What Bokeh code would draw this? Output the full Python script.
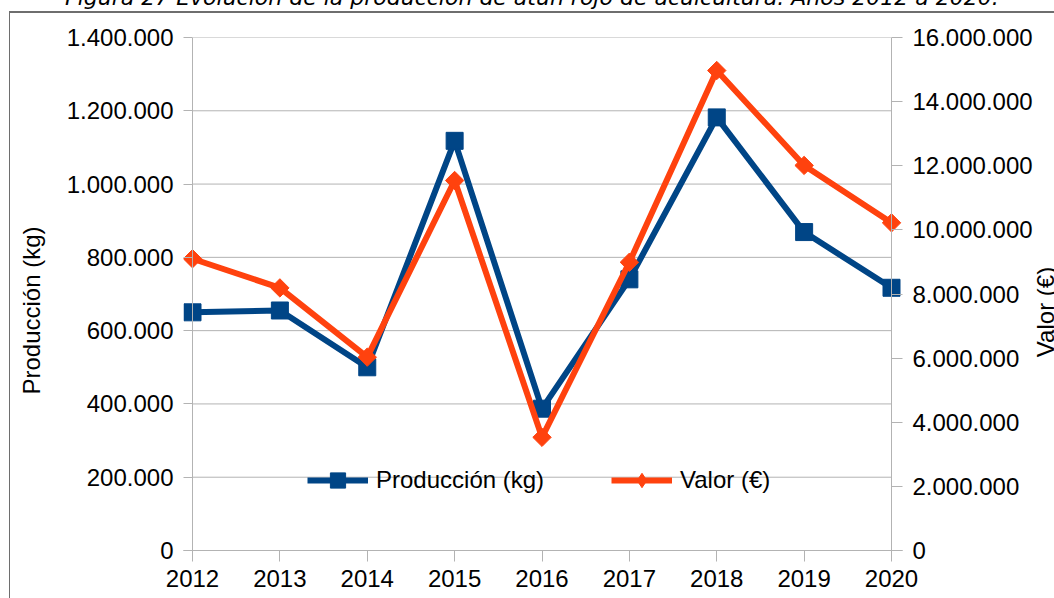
import numpy as np
from bokeh.plotting import figure
from bokeh.layouts import column
from bokeh.models import (Range1d, LinearAxis, FixedTicker, Legend, LegendItem,
                          Span, ColumnDataSource, Div)
from bokeh.embed import file_html
from bokeh.resources import INLINE

# ---- data ----
years = [2012, 2013, 2014, 2015, 2016, 2017, 2018, 2019, 2020]
year_labels = ["2012", "2013", "2014", "2015", "2016", "2017", "2018", "2019", "2020"]
produccion = [650000, 655000, 500000, 1118000, 387000, 740000, 1182000, 869000, 717000]
valor = [9100000, 8190000, 6030000, 11540000, 3530000, 8990000, 14970000, 12010000, 10220000]
prod_ticks = [0, 200000, 400000, 600000, 800000, 1000000, 1200000, 1400000]
valor_ticks = [0, 2000000, 4000000, 6000000, 8000000, 10000000, 12000000, 14000000, 16000000]
title_text = "Figura 27 Evolución de la producción de atún rojo de acuicultura. Años 2012 a 2020."
prod_label = "Producción (kg)"
valor_label = "Valor (€)"


def fmt(v):
    return f"{v:,}".replace(",", ".")


BLUE = "#004586"
ORANGE = "#ff420e"
GRAY = "#b3b3b3"
BOX = "#6e6e6e"
FONT = "Liberation Sans"
FS = "24px"
W = 1054
H = 598
TOP_H = 11          # strip holding the (cut-off) caption
MAIN_H = H - TOP_H

# frame geometry (page pixels)
FR_TOP, FR_BOT = 37, 550
X0_PX, X1_PX = 192, 891
px_per_year = (X1_PX - X0_PX) / (years[-1] - years[0])
pad_l = 9 / px_per_year
pad_r = 11 / px_per_year
# upper end of the left axis title (page y = 226)
prod_title_pos = int(round(prod_ticks[-1] * (FR_BOT - 226) / (FR_BOT - FR_TOP)))

# ---- caption strip (only the lower part of the caption is visible) + right axis title ----
caption_html = (
    '<div style="position:relative; top:-13px; left:65px; white-space:nowrap; '
    'font-family:\'DejaVu Sans\'; font-style:italic; font-size:22px; '
    'line-height:22px; color:#000;">' + title_text + '</div>'
    f'<div style="position:absolute; left:0; top:0; width:{W}px; height:{H}px; '
    'overflow:hidden; pointer-events:none; z-index:1000;">'
    '<div style="position:absolute; left:1046px; top:312px; '
    'transform:translate(-50%,-50%) rotate(-90deg); white-space:nowrap; '
    'font-family:\'Liberation Sans\'; font-size:24px; line-height:24px; color:#000;">'
    + valor_label + '</div></div>'
)
caption = Div(text=caption_html, width=W, height=TOP_H, margin=0,
              styles={"overflow": "visible", "position": "relative", "z-index": "1000"})

# ---- main chart ----
p = figure(width=W, height=MAIN_H, output_backend="svg", toolbar_location=None,
           x_range=Range1d(years[0] - pad_l, years[-1] + pad_r),
           y_range=Range1d(prod_ticks[0], prod_ticks[-1]),
           min_border_left=X0_PX - 9, min_border_right=W - (X1_PX + 11),
           min_border_top=FR_TOP - TOP_H, min_border_bottom=MAIN_H - (FR_BOT - TOP_H))
# chart box border (left and top edges; right/bottom lie outside the window)
p.styles = {
    "background-color": "white",
    "background-image": f"linear-gradient({BOX}, {BOX}), linear-gradient({BOX}, {BOX})",
    "background-size": "1px 100%, 100% 2px",
    "background-position": "9px 0px, 9px 0px",
    "background-repeat": "no-repeat",
}
p.outline_line_color = None
p.background_fill_color = "white"
p.border_fill_color = None
p.xgrid.visible = False
p.ygrid.visible = False
p.extra_y_ranges = {"valor": Range1d(valor_ticks[0], valor_ticks[-1])}

# horizontal grid lines from the left-axis ticks
p.segment(x0=years[0], x1=years[-1], y0=prod_ticks, y1=prod_ticks,
          line_color=GRAY, line_width=1)
# vertical axis lines at first / last category
p.add_layout(Span(location=years[0], dimension="height", line_color=GRAY, line_width=1))
p.add_layout(Span(location=years[-1], dimension="height", line_color=GRAY, line_width=1))

# series
src = ColumnDataSource(dict(x=years, prod=produccion, val=valor))
l1 = p.line("x", "prod", source=src, line_color=BLUE, line_width=6, line_join="round")
m1 = p.scatter("x", "prod", source=src, marker="square", size=17,
               fill_color=BLUE, line_color=BLUE)
l2 = p.line("x", "val", source=src, y_range_name="valor", line_color=ORANGE,
            line_width=6, line_join="round")
m2 = p.scatter("x", "val", source=src, y_range_name="valor", marker="square",
               angle=np.pi / 4, size=13, fill_color=ORANGE, line_color=ORANGE)
# legend-only diamond (one NaN point, never drawn in the plot)
m2_leg = p.scatter(x=np.array([np.nan]), y=np.array([np.nan]), y_range_name="valor",
                   marker="diamond", size=13, fill_color=ORANGE, line_color=ORANGE)


def style_labels(ax):
    ax.major_label_text_font = FONT
    ax.major_label_text_font_size = FS
    ax.major_label_text_color = "black"
    ax.minor_tick_line_color = None


# bottom axis
xa = p.xaxis[0]
xa.ticker = FixedTicker(ticks=years)
xa.major_label_overrides = {y: s for y, s in zip(years, year_labels)}
xa.axis_line_color = GRAY
xa.major_tick_line_color = GRAY
xa.major_tick_out = 11
xa.major_tick_in = 0
xa.major_label_standoff = 8
style_labels(xa)

# left value axis
ya = p.yaxis[0]
ya.ticker = FixedTicker(ticks=prod_ticks)
ya.major_label_overrides = {v: fmt(v) for v in prod_ticks}
ya.axis_line_color = None
ya.major_tick_line_color = GRAY
ya.major_tick_out = 0
ya.major_tick_in = 9
ya.major_label_standoff = 10
style_labels(ya)

# right value axis
ra = LinearAxis(y_range_name="valor")
ra.ticker = FixedTicker(ticks=valor_ticks)
ra.major_label_overrides = {v: fmt(v) for v in valor_ticks}
ra.axis_line_color = None
ra.major_tick_line_color = GRAY
ra.major_tick_out = 0
ra.major_tick_in = 11
ra.major_label_standoff = 10
style_labels(ra)
p.add_layout(ra, "right")

# left axis title as a single rotated label on an outer axis
ta = LinearAxis()
ta.ticker = FixedTicker(ticks=[prod_title_pos])
ta.major_label_overrides = {prod_title_pos: prod_label}
ta.major_label_orientation = np.pi / 2
ta.axis_line_color = None
ta.major_tick_line_color = None
ta.major_tick_in = 0
ta.major_tick_out = 0
ta.major_label_standoff = 32
style_labels(ta)
p.add_layout(ta, "left")

# legends (two, so that each marker gets its own size)
leg1 = Legend(items=[LegendItem(label=prod_label, renderers=[l1, m1])],
              location=(124, 51), orientation="horizontal",
              glyph_width=61, glyph_height=38, label_standoff=8,
              padding=0, margin=0, border_line_color=None, background_fill_alpha=0,
              label_text_font=FONT, label_text_font_size=FS, label_text_color="black")
leg2 = Legend(items=[LegendItem(label=valor_label, renderers=[l2, m2_leg])],
              location=(428, 52), orientation="horizontal",
              glyph_width=61, glyph_height=36, label_standoff=8,
              padding=0, margin=0, border_line_color=None, background_fill_alpha=0,
              label_text_font=FONT, label_text_font_size=FS, label_text_color="black")
p.add_layout(leg1, "center")
p.add_layout(leg2, "center")

layout = column(caption, p, spacing=0)
open("out.html", "w").write(file_html(layout, INLINE))
